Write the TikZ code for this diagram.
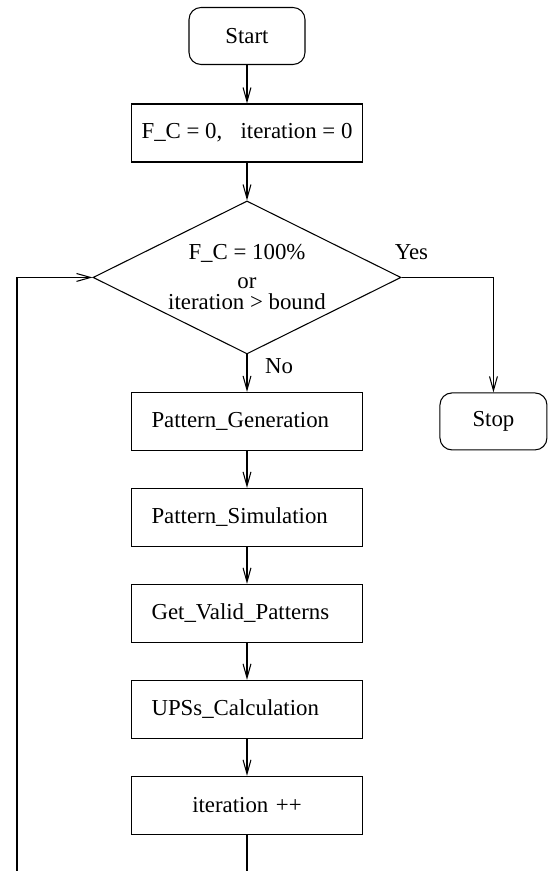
\documentclass[tikz,border=0pt]{standalone}
\usepackage{fontspec}
\setmainfont{Liberation Serif}
\usetikzlibrary{positioning, arrows.meta, shapes.geometric}

\tikzset{
  terminal/.style={draw, rectangle, rounded corners=0.24cm, minimum width=2.32cm, minimum height=1.14cm},
  procbox/.style={draw, rectangle, minimum width=4.62cm, minimum height=1.16cm, text width=3.82cm, inner xsep=0.4cm, inner ysep=0pt, align=left},
  decision/.style={draw, diamond, aspect=2, minimum width=6.16cm, minimum height=3.06cm, inner sep=0pt, align=center}
}

\begin{document}
\begin{tikzpicture}[x=0.02cm, y=-0.02cm, node distance=1.92cm, on grid, line width=0.6pt,
    >={Straight Barb[length=8pt,width=4.5pt]}, font=\fontsize{13pt}{15pt}\selectfont]
   \useasboundingbox (0,0) rectangle (550,871);
   \clip (0,0) rectangle (550,871);

   % Start and initialisation
   \node[terminal] (start) at (247,36) {Start};
   \node[draw, rectangle, minimum width=4.62cm, minimum height=1.16cm, inner sep=0pt] (init) [below=1.94cm of start] {F\_C = 0,\hspace{0.8em}iteration = 0};

   % The test
   \node[decision] (test) [below=2.89cm of init] {F\_C = 100\%\\[1.4pt] or\\[-3pt] iteration > bound};
   \node (yes) at ([shift={(10,-25)}]test.east) {Yes};
   \node (no) at ([shift={(32,12)}]test.south) {No};

   % Loop body
   \node[procbox] (gen) [below=2.88cm of test] {Pattern\_Generation};
   \node[procbox] (sim) [below=of gen] {Pattern\_Simulation};
   \node[procbox] (valid) [below=of sim] {Get\_Valid\_Patterns};
   \node[procbox] (ups) [below=of valid] {UPSs\_Calculation};
   \node[procbox, align=center] (iter) [below=of ups] {iteration ++};

   % End
   \node[terminal, minimum width=2.14cm] (stop) [right=4.93cm of gen] {Stop};

   % Back to the test (runs off the page)
   \coordinate (loopbot) at (247,890);
   \coordinate (loopleft) at (17,890);

   % Transitions
   \path[->]
    (start) edge (init)
    (init) edge (test)
    (test) edge (gen)
    (gen) edge (sim)
    (sim) edge (valid)
    (valid) edge (ups)
    (ups) edge (iter);
   \draw[->] (test.east) -| (stop);
   \draw[->] (iter) -- (loopbot) -- (loopleft) |- (test.west);
\end{tikzpicture}
\end{document}
